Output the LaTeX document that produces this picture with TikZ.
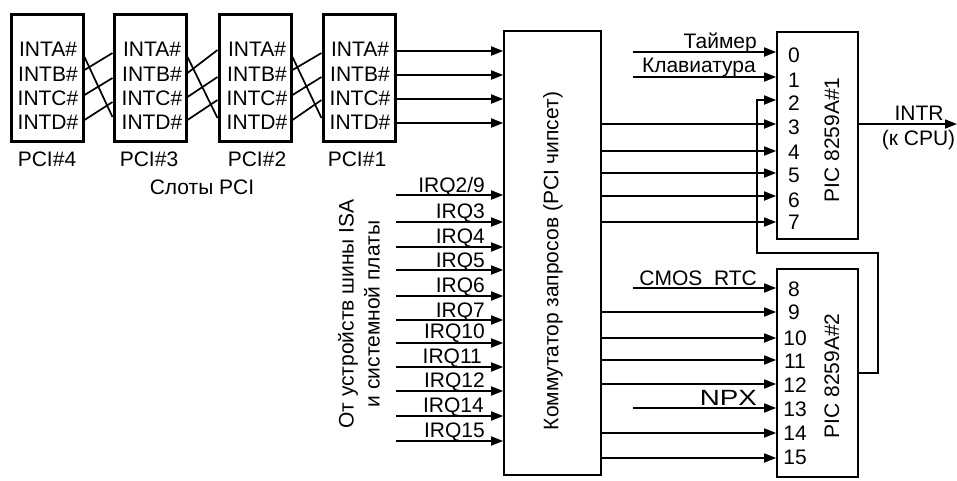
\documentclass[tikz,border=0pt]{standalone}
\usepackage{fontspec}
\setmainfont{Liberation Sans}
\usetikzlibrary{arrows.meta,positioning}
\newcommand{\lblfont}{\fontsize{21}{24.3}\selectfont}

\begin{document}
\begin{tikzpicture}[x=1pt,y=-1pt,
  slot/.style={draw,line width=3pt,minimum width=72pt,minimum height=127pt,inner sep=0pt},
  intlist/.style={align=center,font=\lblfont,inner sep=0pt},
  ctrl/.style={draw,line width=1.7pt,minimum width=81pt,inner sep=0pt},
  txt/.style={font=\lblfont,inner sep=0pt},
  sig/.style={txt,anchor=base east},
  pinno/.style={txt},
  vert/.style={txt,rotate=90,align=center},
  wire/.style={line width=1.7pt},
  arr/.style={wire,-{Triangle[length=12pt,width=9pt]}}]
  \useasboundingbox (0,0) rectangle (957,480);
  % slots
  \node[slot] (s4) at (47,78) {};
  \node[slot] (s3) at (150,78) {};
  \node[slot] (s2) at (255,78) {};
  \node[slot] (s1) at (359,78) {};
  \node[intlist] (i4) at (48,86) {INTA\#\\INTB\#\\INTC\#\\INTD\#};
  \node[intlist] (i3) at (152,86) {INTA\#\\INTB\#\\INTC\#\\INTD\#};
  \node[intlist] (i2) at (257,86) {INTA\#\\INTB\#\\INTC\#\\INTD\#};
  \node[intlist] (i1) at (360,86) {INTA\#\\INTB\#\\INTC\#\\INTD\#};
  \node[txt] (p4) at (47,159) {PCI\#4};
  \node[txt] (p3) at (149,159) {PCI\#3};
  \node[txt] (p2) at (257,159) {PCI\#2};
  \node[txt] (p1) at (357,159) {PCI\#1};
  \node[txt] (slots) at (202,187) {Слоты PCI};
  % crossed lines between slots
  \draw[wire] (s4.east |- 0,57) -- (s3.west |- 0,117);
  \draw[wire] (s4.east |- 0,70) -- (s3.west |- 0,53);
  \draw[wire] (s4.east |- 0,95) -- (s3.west |- 0,78);
  \draw[wire] (s4.east |- 0,120) -- (s3.west |- 0,102);
  \draw[wire] (s3.east |- 0,57) -- (s2.west |- 0,118);
  \draw[wire] (s3.east |- 0,73) -- (s2.west |- 0,50);
  \draw[wire] (s3.east |- 0,97) -- (s2.west |- 0,77);
  \draw[wire] (s3.east |- 0,120) -- (s2.west |- 0,100);
  \draw[wire] (s2.east |- 0,57) -- (s1.west |- 0,118);
  \draw[wire] (s2.east |- 0,70) -- (s1.west |- 0,53);
  \draw[wire] (s2.east |- 0,95) -- (s1.west |- 0,77);
  \draw[wire] (s2.east |- 0,120) -- (s1.west |- 0,100);
  % switch and controllers
  \node[draw,line width=1.7pt,minimum width=97pt,minimum height=444pt,inner sep=0pt] (sw) at (552.5,253) {};
  \node[vert] (swname) at (553,261) {Коммутатор запросов (PCI чипсет)};
  \node[ctrl,minimum height=207pt] (pic1) at (817.5,135.5) {};
  \node[ctrl,minimum height=208pt] (pic2) at (817.5,373) {};
  \node[vert] (pic1name) at (832,140) {PIC 8259A\#1};
  \node[vert] (pic2name) at (832,376) {PIC 8259A\#2};
  % slot 1 to switch
  \draw[arr] (s1.east |- 0,51) -- (sw.west |- 0,51);
  \draw[arr] (s1.east |- 0,75) -- (sw.west |- 0,75);
  \draw[arr] (s1.east |- 0,99) -- (sw.west |- 0,99);
  \draw[arr] (s1.east |- 0,123) -- (sw.west |- 0,123);
  % ISA requests
  \node[vert,font=\fontsize{21}{26}\selectfont] (isa) at (359,314) {От устройств шины ISA\\и системной платы};
  \coordinate (q1) at (396,195);
  \coordinate (q2) at (396,222);
  \coordinate (q3) at (396,247);
  \coordinate (q4) at (396,270);
  \coordinate (q5) at (396,296);
  \coordinate (q6) at (396,320);
  \coordinate (q7) at (396,343);
  \coordinate (q8) at (396,367);
  \coordinate (q9) at (396,391);
  \coordinate (q10) at (396,416);
  \coordinate (q11) at (396,441);
  \node[sig] (r1) at (485,192) {IRQ2/9};
  \node[sig] (r2) at (485,218) {IRQ3};
  \node[sig] (r3) at (485,243) {IRQ4};
  \node[sig] (r4) at (485,267) {IRQ5};
  \node[sig] (r5) at (485,292) {IRQ6};
  \node[sig] (r6) at (485,317) {IRQ7};
  \node[sig] (r7) at (485,338) {IRQ10};
  \node[sig] (r8) at (482,363) {IRQ11};
  \node[sig] (r9) at (485,387) {IRQ12};
  \node[sig] (r10) at (484,412) {IRQ14};
  \node[sig] (r11) at (485,437) {IRQ15};
  \draw[arr] (q1) -- (sw.west |- q1);
  \draw[arr] (q2) -- (sw.west |- q2);
  \draw[arr] (q3) -- (sw.west |- q3);
  \draw[arr] (q4) -- (sw.west |- q4);
  \draw[arr] (q5) -- (sw.west |- q5);
  \draw[arr] (q6) -- (sw.west |- q6);
  \draw[arr] (q7) -- (sw.west |- q7);
  \draw[arr] (q8) -- (sw.west |- q8);
  \draw[arr] (q9) -- (sw.west |- q9);
  \draw[arr] (q10) -- (sw.west |- q10);
  \draw[arr] (q11) -- (sw.west |- q11);
  % first controller
  \node[pinno] (n0) at (794,55) {0};
  \node[pinno] (n1) at (794,80) {1};
  \node[pinno] (n2) at (794,103) {2};
  \node[pinno] (n3) at (794,127) {3};
  \node[pinno] (n4) at (794,152) {4};
  \node[pinno] (n5) at (794,175) {5};
  \node[pinno] (n6) at (794,200) {6};
  \node[pinno] (n7) at (794,222) {7};
  \coordinate (timer) at (633,52);
  \coordinate (kbd) at (633,77);
  \node[sig] (timertxt) at (757,48) {Таймер};
  \node[sig] (kbdtxt) at (756,72) {Клавиатура};
  \draw[arr] (timer) -- (pic1.west |- timer);
  \draw[arr] (kbd) -- (pic1.west |- kbd);
  \draw[arr] (sw.east |- 0,124) -- (pic1.west |- 0,124);
  \draw[arr] (sw.east |- 0,151) -- (pic1.west |- 0,151);
  \draw[arr] (sw.east |- 0,173) -- (pic1.west |- 0,173);
  \draw[arr] (sw.east |- 0,196) -- (pic1.west |- 0,196);
  \draw[arr] (sw.east |- 0,222) -- (pic1.west |- 0,222);
  \coordinate (cpu) at (957,124);
  \draw[arr] (pic1.east |- cpu) -- (cpu);
  \node[txt] (intr) at (919,113) {INTR};
  \node[txt] (tocpu) at (918.5,140) {(к CPU)};
  % second controller
  \node[pinno] (n8) at (794,289) {8};
  \node[pinno] (n9) at (794,312) {9};
  \node[pinno] (n10) at (795,338) {10};
  \node[pinno] (n11) at (795,361) {11};
  \node[pinno] (n12) at (795,385) {12};
  \node[pinno] (n13) at (795,409) {13};
  \node[pinno] (n14) at (795,433) {14};
  \node[pinno] (n15) at (795,457) {15};
  \coordinate (rtc) at (633,288);
  \coordinate (npx) at (633,408);
  \node[sig] (rtctxt) at (757,285) {CMOS\ \ RTC};
  \node[sig] (npxtxt) at (757,405) {\scalebox{1.32}[1.05]{NPX}};
  \draw[arr] (rtc) -- (pic2.west |- rtc);
  \draw[arr] (npx) -- (pic2.west |- npx);
  \draw[arr] (sw.east |- 0,312) -- (pic2.west |- 0,312);
  \draw[arr] (sw.east |- 0,338) -- (pic2.west |- 0,338);
  \draw[arr] (sw.east |- 0,360) -- (pic2.west |- 0,360);
  \draw[arr] (sw.east |- 0,384) -- (pic2.west |- 0,384);
  \draw[arr] (sw.east |- 0,433) -- (pic2.west |- 0,433);
  \draw[arr] (sw.east |- 0,458) -- (pic2.west |- 0,458);
  % cascade
  \draw[arr] (pic2.east |- 0,373) -| (878,253) -| (757,100) -- (pic1.west |- 0,100);
\end{tikzpicture}
\end{document}
